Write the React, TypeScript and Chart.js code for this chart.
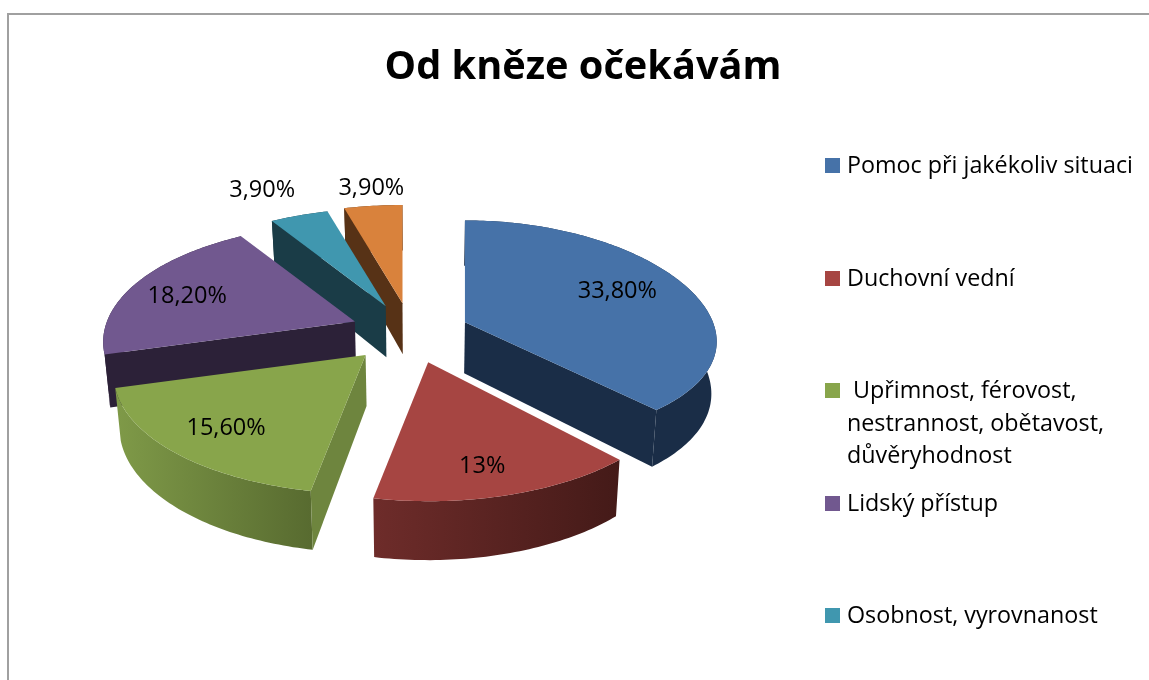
import React, { useEffect, useRef } from "react";
import { Chart, registerables } from "chart.js";

Chart.register(...registerables);

const titleText = "Od kněze očekávám";
const categories = [
  "Pomoc při jakékoliv situaci",
  "Duchovní vední",
  "Upřimnost, férovost, nestrannost, obětavost, důvěryhodnost",
  "Lidský přístup",
  "Osobnost, vyrovnanost",
  "Ostatní",
];
const values = [33.8, 13, 15.6, 18.2, 3.9, 3.9];
const valueLabels = ["33,80%", "13%", "15,60%", "18,20%", "3,90%", "3,90%"];
const topColors = ["#4672A8", "#A64542", "#88A54B", "#71588F", "#4097AF", "#D9823C"];
const wallLeft = ["#1A2D47", "#6E2C2A", "#7F9A48", "#2C2138", "#1A3C47", "#573216"];
const wallRight = ["#1A2D47", "#441A18", "#586B30", "#2C2138", "#1A3C47", "#573216"];
const faceColors = ["#1A2D47", "#441A18", "#6E853E", "#2C2138", "#1A3C47", "#573216"];
const explode = [60, 70, 60, 58, 55, 40];
const nudgeX = [1, 1, -2, 1, 0, 0];
const nudgeY = [1, 1, 4, 0, -2, -10];
const perspY = [0.09, 0.172, 0.172, 0.172, 0.172, 0.172];
const ySpan = [111, 115, 115, 115, 115, 115];
const labelRadius = [0.72, 0.75, 0.74, 0.75, 1.35, 1.2];
const labelDx = [-7, -4, -3, -2, -12, 3];
const labelDy = [-3, 9, 4, 5, 1, -1];
const legendLines = [
  ["Pomoc při jakékoliv situaci"],
  ["Duchovní vední"],
  [" Upřimnost, férovost,", "nestrannost, obětavost,", "důvěryhodnost"],
  ["Lidský přístup"],
  ["Osobnost, vyrovnanost"],
];
const legendBaselines = [173, 286, 398, 511, 623];

const FONT = '"Open Sans", sans-serif';
const PERSP = 0.172;
const DEPTH = 51;
const DEPTH_PERSP = 0.75;
const EXPL_Y = 0.45;

const pie3d = {
  id: "pie3d",
  beforeDatasetsDraw(chart: any) {
    const ctx: CanvasRenderingContext2D = chart.ctx;
    const arcs: any[] = chart.getDatasetMeta(0).data;
    const bottomX = (x: number) => x + (420 - x) * 0.018;

    ctx.save();
    ctx.strokeStyle = "#A0A0A0";
    ctx.lineWidth = 2;
    ctx.strokeRect(8, 14, 1300, 900);
    ctx.restore();

    const slices = arcs.map((arc, i) => {
      const { x, y, startAngle, endAngle, outerRadius } = arc.getProps(
        ["x", "y", "startAngle", "endAngle", "outerRadius"],
        true
      );
      const mid = (startAngle + endAngle) / 2;
      const e = arc.options.offset;
      const ax = x + e * Math.cos(mid) + nudgeX[i];
      const ay = y + e * Math.sin(mid) * EXPL_Y + nudgeY[i];
      const project = (a: number, r = 1) => {
        const u = Math.cos(a) * r;
        const v = Math.sin(a) * r;
        const s = 1 / (1 - PERSP * v);
        const sy = 1 / (1 - perspY[i] * v);
        return { x: ax + outerRadius * u * s, y: ay + ySpan[i] * v * sy, s };
      };
      const rim: { x: number; y: number; s: number }[] = [];
      const steps = Math.max(8, Math.ceil(((endAngle - startAngle) * 180) / Math.PI));
      for (let k = 0; k <= steps; k++) rim.push(project(startAngle + ((endAngle - startAngle) * k) / steps));
      return { i, ax, ay, mid, rim, project };
    });

    const order = [...slices].sort((a, b) => Math.sin(a.mid) - Math.sin(b.mid));
    const down = (p: { x: number; y: number; s: number }) => ({
      x: bottomX(p.x),
      y: p.y + DEPTH * (1 + (p.s - 1) * DEPTH_PERSP),
    });

    for (const sl of order) {
      const { i, ax, ay, rim } = sl;
      const apex = { x: ax, y: ay, s: 1 };
      const cx = (ax + rim[0].x + rim[rim.length - 1].x) / 3;
      const cy = (ay + rim[0].y + rim[rim.length - 1].y) / 3;

      // outer wall: only the part of the rim that faces the viewer
      const front = rim.filter((p, k) => k === 0 || k === rim.length - 1 || p.y > ay - 30);
      const xs = rim.map((p) => p.x);
      const grad = ctx.createLinearGradient(Math.min(...xs), 0, Math.max(...xs), 0);
      grad.addColorStop(0, wallLeft[i]);
      grad.addColorStop(1, wallRight[i]);
      ctx.fillStyle = grad;
      ctx.beginPath();
      rim.forEach((p, k) => (k ? ctx.lineTo(p.x, p.y) : ctx.moveTo(p.x, p.y)));
      [...rim].reverse().forEach((p) => {
        const d = down(p);
        ctx.lineTo(d.x, d.y);
      });
      ctx.closePath();
      ctx.fill();
      void front;

      // cut faces that look towards the viewer
      for (const corner of [rim[0], rim[rim.length - 1]]) {
        const dx = corner.x - ax;
        const dy = corner.y - ay;
        let nx = -dy;
        let ny = dx;
        const mx = (corner.x + ax) / 2 - cx;
        const my = (corner.y + ay) / 2 - cy;
        if (nx * mx + ny * my < 0) {
          nx = -nx;
          ny = -ny;
        }
        if (ny <= 0) continue;
        const a2 = down(apex);
        const c2 = down(corner);
        ctx.fillStyle = faceColors[i];
        ctx.beginPath();
        ctx.moveTo(ax, ay);
        ctx.lineTo(corner.x, corner.y);
        ctx.lineTo(c2.x, c2.y);
        ctx.lineTo(a2.x, a2.y);
        ctx.closePath();
        ctx.fill();
      }

      // top face
      ctx.fillStyle = topColors[i];
      ctx.beginPath();
      ctx.moveTo(ax, ay);
      rim.forEach((p) => ctx.lineTo(p.x, p.y));
      ctx.closePath();
      ctx.fill();
    }

    // value labels
    ctx.fillStyle = "#000";
    ctx.font = `23.5px ${FONT}`;
    ctx.textAlign = "center";
    ctx.textBaseline = "middle";
    slices.forEach((sl) => {
      const p = sl.project(sl.mid, labelRadius[sl.i]);
      ctx.fillText(valueLabels[sl.i], p.x + labelDx[sl.i], p.y + labelDy[sl.i]);
    });

    // title
    ctx.font = `bold 39.7px ${FONT}`;
    ctx.textBaseline = "alphabetic";
    ctx.fillText(titleText, 583, 79);

    // legend
    ctx.textAlign = "left";
    ctx.font = `23.3px ${FONT}`;
    legendLines.forEach((lines, i) => {
      const b = legendBaselines[i];
      ctx.fillStyle = topColors[i];
      ctx.fillRect(825, b - 15, 15, 15);
      ctx.fillStyle = "#000";
      lines.forEach((t, k) => {
        ctx.fillText(t.trim(), t.startsWith(" ") ? 853 : 847, b + k * 32.5);
      });
    });
    return false;
  },
};

export default function App() {
  const ref = useRef<HTMLCanvasElement>(null);
  useEffect(() => {
    document.body.style.margin = "0";
    document.body.style.overflow = "hidden";
    const chart = new Chart(ref.current!, {
      type: "pie",
      data: {
        labels: categories,
        datasets: [{ data: values, backgroundColor: topColors, offset: explode, borderWidth: 0, radius: 248 } as any],
      },
      options: {
        responsive: false,
        animation: false,
        layout: { padding: { right: 333, bottom: 18 } },
        plugins: { legend: { display: false }, title: { display: false }, tooltip: { enabled: false } },
      },
      plugins: [pie3d],
    } as any);
    return () => chart.destroy();
  }, []);
  return <canvas ref={ref} width={1149} height={680} style={{ display: "block", background: "#fff" }} />;
}
